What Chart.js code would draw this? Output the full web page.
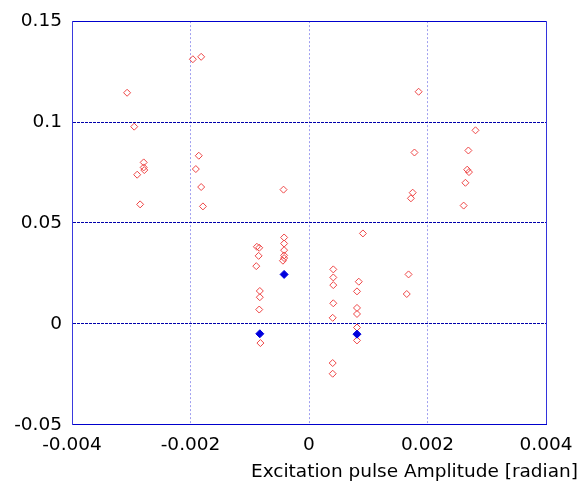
<!DOCTYPE html>
<html>
<head>
<meta charset="utf-8">
<script src="https://cdn.jsdelivr.net/npm/chart.js@4/dist/chart.umd.min.js"></script>
<style>
  html, body { margin: 0; padding: 0; background: #ffffff; }
  #wrap { width: 587px; height: 485px; }
</style>
</head>
<body>
<div id="wrap"><canvas id="c" width="587" height="485"></canvas></div>
<script>
// ---- data ----
const redX = [-0.00307, -0.00295, -0.00279, -0.00279, -0.00278, -0.00290, -0.00285,
  -0.00196, -0.00182, -0.00186, -0.00191, -0.00182, -0.00179,
  -0.00043, -0.00088, -0.00084, -0.00085, -0.00089, -0.00083, -0.00083, -0.00084, -0.00082,
  -0.00042, -0.00042, -0.00042, -0.00042, -0.00042, -0.00044,
  0.00091, 0.00041, 0.00041, 0.00041, 0.00041, 0.00040, 0.00040, 0.00040,
  0.00084, 0.00081, 0.00081, 0.00081, 0.00081, 0.00081,
  0.00185, 0.00178, 0.00175, 0.00172, 0.00168, 0.00165,
  0.00281, 0.00269, 0.00267, 0.00270, 0.00264, 0.00261];
const redY = [0.1145, 0.0977, 0.0800, 0.0775, 0.0762, 0.0739, 0.0592,
  0.1311, 0.1323, 0.0833, 0.0767, 0.0678, 0.0582,
  0.0665, 0.0382, 0.0377, 0.0337, 0.0286, 0.0163, 0.0132, 0.0071, -0.0095,
  0.0428, 0.0398, 0.0365, 0.0339, 0.0326, 0.0313,
  0.0448, 0.0270, 0.0230, 0.0192, 0.0102, 0.0030, -0.0194, -0.0247,
  0.0209, 0.0161, 0.0079, 0.0049, -0.0018, -0.0082,
  0.1150, 0.0849, 0.0650, 0.0622, 0.0245, 0.0148,
  0.0959, 0.0859, 0.0764, 0.0752, 0.0699, 0.0586];
const blueX = [-0.00083, -0.00042, 0.00081];
const blueY = [-0.0049, 0.0245, -0.0051];

const xTickValues = [-0.004, -0.002, 0, 0.002, 0.004];
const xTickLabels = ["-0.004", "-0.002", "0", "0.002", "0.004"];
const yTickValues = [-0.05, 0, 0.05, 0.1, 0.15];
const yTickLabels = ["-0.05", "0", "0.05", "0.1", "0.15"];
const xTitle = "Excitation pulse Amplitude [radian]";

const toPts = (xs, ys) => xs.map((x, i) => ({ x: x, y: ys[i] }));
const FONT = { family: "'DejaVu Sans', sans-serif", size: 18.5 };
const near = (a, b) => Math.abs(a - b) < 1e-9;

new Chart(document.getElementById('c'), {
  type: 'scatter',
  data: {
    datasets: [
      {
        label: 'selected',
        data: toPts(blueX, blueY),
        pointStyle: 'rectRot',
        pointRadius: 4,
        pointBackgroundColor: '#0000dd',
        pointBorderColor: '#0000dd',
        pointBorderWidth: 1,
        showLine: false
      },
      {
        label: 'all',
        data: toPts(redX, redY),
        pointStyle: 'rectRot',
        pointRadius: 3.5,
        pointBackgroundColor: 'rgba(0,0,0,0)',
        pointBorderColor: 'rgb(238,70,70)',
        pointBorderWidth: 1,
        showLine: false
      }
    ]
  },
  options: {
    responsive: false,
    devicePixelRatio: 1,
    animation: false,
    layout: { padding: { top: 20, right: 9, bottom: 0, left: 0 } },
    plugins: {
      legend: { display: false },
      tooltip: { enabled: false },
      title: {
        display: true,
        position: 'bottom',
        align: 'end',
        text: xTitle,
        color: '#000000',
        font: { family: FONT.family, size: FONT.size, weight: 'normal' },
        padding: { top: 0, bottom: 2 }
      }
    },
    scales: {
      x: {
        type: 'linear',
        position: 'bottom',
        min: -0.004,
        max: 0.004,
        afterBuildTicks: (s) => { s.ticks = xTickValues.map(v => ({ value: v })); },
        afterFit: (s) => { s.height = 36; },
        ticks: {
          color: '#000000',
          font: FONT,
          padding: 9,
          maxRotation: 0,
          autoSkip: false,
          callback: (v, i) => xTickLabels[i]
        },
        grid: {
          drawTicks: false,
          lineWidth: 1,
          color: (ctx) => (ctx.tick && near(ctx.tick.value, 0.004)) ? '#3333dd' : '#a0a0f0'
        },
        border: {
          display: true,
          color: '#0000cc',
          width: 1,
          dash: (ctx) => (ctx.tick && (near(ctx.tick.value, 0.004) || near(ctx.tick.value, -0.004))) ? [] : [2, 2]
        }
      },
      y: {
        type: 'linear',
        position: 'left',
        min: -0.05,
        max: 0.15,
        afterBuildTicks: (s) => { s.ticks = yTickValues.map(v => ({ value: v })); },
        afterFit: (s) => { s.width = 72; },
        ticks: {
          color: '#000000',
          font: FONT,
          padding: 10,
          autoSkip: false,
          callback: (v, i) => yTickLabels[i]
        },
        grid: {
          drawTicks: false,
          lineWidth: 1,
          color: (ctx) => (ctx.tick && near(ctx.tick.value, 0.15)) ? '#0000cc' : '#0000aa'
        },
        border: {
          display: true,
          color: '#3a3ade',
          width: 1,
          dash: (ctx) => (ctx.tick && (near(ctx.tick.value, 0.15) || near(ctx.tick.value, -0.05))) ? [] : [3, 1]
        }
      },
      yRight: {
        type: 'linear',
        position: 'right',
        min: -0.05,
        max: 0.15,
        afterFit: (s) => { s.width = 32; },
        ticks: { display: false },
        grid: { display: false, drawTicks: false },
        border: { display: false }
      }
    }
  }
});
</script>
</body>
</html>
